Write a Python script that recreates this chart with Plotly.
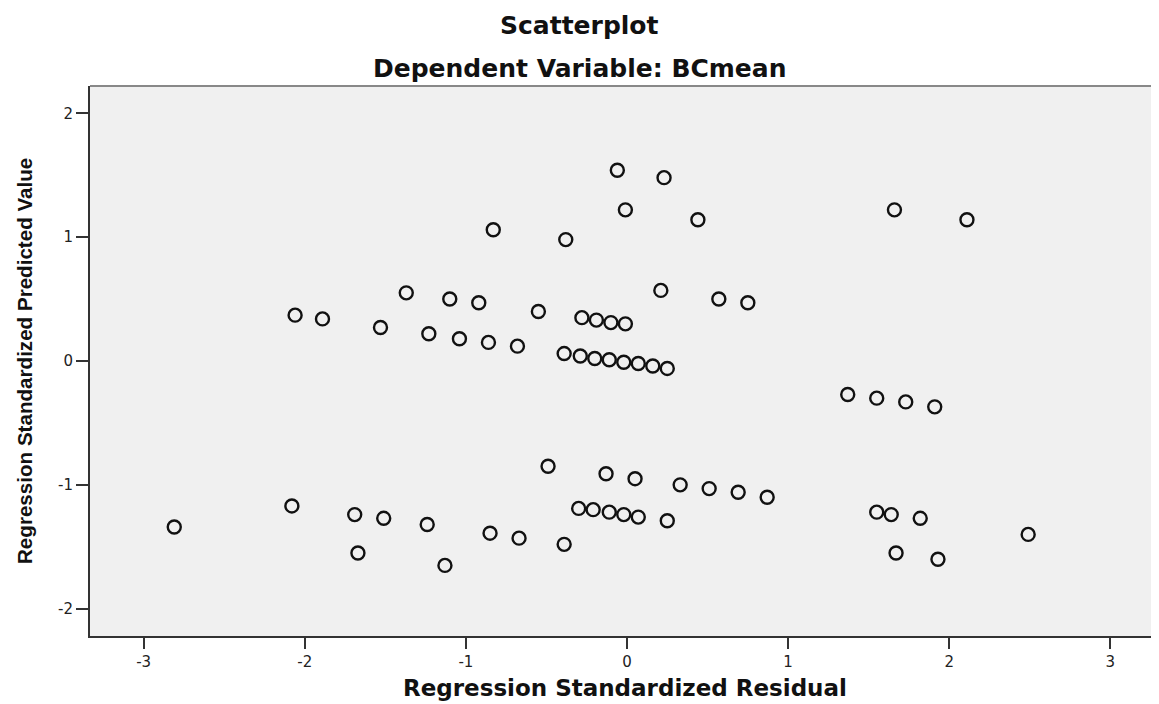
import plotly.graph_objects as go

# Regression standardized residual (x) and standardized predicted value (y)
residual = [
    -2.06, -1.89, -1.53, -1.37, -1.23, -1.10, -1.04, -0.86, -0.68, -0.92,
    -0.55, -0.28, -0.19, -0.10, -0.01, 0.21, 0.57, 0.75,
    -0.06, 0.23, -0.01, 0.44, -0.83, -0.38, 1.66, 2.11,
    -0.39, -0.29, -0.20, -0.11, -0.02, 0.07, 0.16, 0.25,
    1.37, 1.55, 1.73, 1.91,
    -0.49, -0.13, 0.05, 0.33, 0.51, 0.69, 0.87,
    -0.30, -0.21, -0.11, -0.02, 0.07, 0.25,
    -0.85, -0.67, -0.39,
    -2.81, -2.08, -1.69, -1.51, -1.24, -1.67, -1.13,
    1.55, 1.64, 1.82, 2.49, 1.67, 1.93,
]
predicted = [
    0.37, 0.34, 0.27, 0.55, 0.22, 0.50, 0.18, 0.15, 0.12, 0.47,
    0.40, 0.35, 0.33, 0.31, 0.30, 0.57, 0.50, 0.47,
    1.54, 1.48, 1.22, 1.14, 1.06, 0.98, 1.22, 1.14,
    0.06, 0.04, 0.02, 0.01, -0.01, -0.02, -0.04, -0.06,
    -0.27, -0.30, -0.33, -0.37,
    -0.85, -0.91, -0.95, -1.00, -1.03, -1.06, -1.10,
    -1.19, -1.20, -1.22, -1.24, -1.26, -1.29,
    -1.39, -1.43, -1.48,
    -1.34, -1.17, -1.24, -1.27, -1.32, -1.55, -1.65,
    -1.22, -1.24, -1.27, -1.40, -1.55, -1.60,
]
x_ticks = [-3, -2, -1, 0, 1, 2, 3]
y_ticks = [-2, -1, 0, 1, 2]

title_text = "Scatterplot"
subtitle_text = "Dependent Variable: BCmean"
x_title = "Regression Standardized Residual"
y_title = "Regression Standardized Predicted Value"

TITLE_FONT = dict(family="DejaVu Sans", size=25, color="#111111")
AXT_FONT = dict(family="DejaVu Sans", size=23, color="#111111")
TICK_FONT = dict(family="DejaVu Sans", size=15, color="#222222")

# The page body has an 8px default margin; the figure is sized so that the
# plot area lands at x 90..1159, y 86..636 of the 1159x704 window.
PAGE = 8
W, H = 1159 - PAGE, 704 - PAGE
L, T, B = 90 - PAGE, 86 - PAGE, 704 - 636
PH = H - T - B          # plot height in px
PW = W - L              # plot width in px

fig = go.Figure()
fig.add_trace(go.Scatter(
    x=residual, y=predicted, mode="markers",
    marker=dict(symbol="circle-open", size=13, color="#111111",
                line=dict(width=2.4, color="#111111")),
    showlegend=False, hoverinfo="skip",
))

fig.update_layout(
    width=W, height=H,
    margin=dict(l=L, r=0, t=T, b=B),
    paper_bgcolor="white", plot_bgcolor="#F0F0F0",
    xaxis=dict(range=[-3.333, 3.302], tickvals=x_ticks,
               ticktext=[str(v) for v in x_ticks],
               showgrid=False, zeroline=False,
               showline=True, linecolor="#333333", linewidth=2,
               ticks="outside", ticklen=11, tickwidth=2, tickcolor="#333333",
               tickfont=TICK_FONT),
    yaxis=dict(range=[-2.22, 2.22], tickvals=y_ticks,
               ticktext=[str(v) for v in y_ticks],
               showgrid=False, zeroline=False,
               showline=True, linecolor="#333333", linewidth=2,
               ticks="outside", ticklen=12, tickwidth=2, tickcolor="#333333",
               tickfont=TICK_FONT),
    shapes=[dict(type="line", xref="paper", yref="paper", x0=0, x1=1, y0=1, y1=1,
                 line=dict(color="#888888", width=2))],
    annotations=[
        dict(text="<b>%s</b>" % title_text, xref="paper", yref="paper",
             x=(579.5 - 90) / PW, y=1 + (86 - 25) / PH,
             xanchor="center", yanchor="middle",
             showarrow=False, font=TITLE_FONT),
        dict(text="<b>%s</b>" % subtitle_text, xref="paper", yref="paper",
             x=(579.5 - 90) / PW, y=1 + (86 - 68) / PH,
             xanchor="center", yanchor="middle",
             showarrow=False, font=TITLE_FONT),
        dict(text="<b>%s</b>" % x_title, xref="paper", yref="paper",
             x=0.5, y=-(688 - 636) / PH, xanchor="center", yanchor="middle",
             showarrow=False, font=AXT_FONT),
        dict(text="<b>%s</b>" % y_title, xref="paper", yref="paper",
             x=(24 - 90) / PW, y=0.5, xanchor="center", yanchor="middle",
             textangle=-90, showarrow=False,
             font=dict(family="Liberation Sans", size=20.6, color="#111111")),
    ],
)

fig.write_html("out.html")
